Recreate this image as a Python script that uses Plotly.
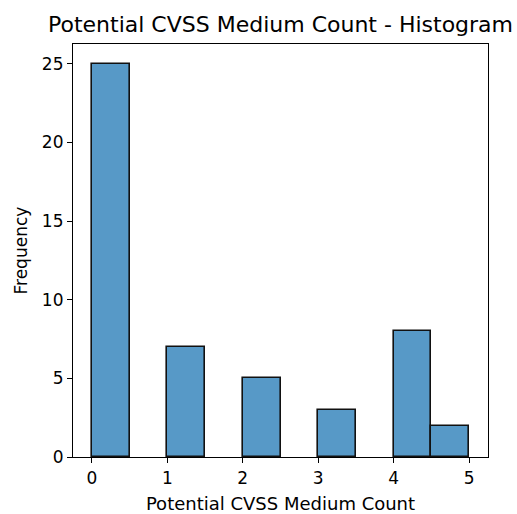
import plotly.graph_objects as go

# Histogram bins (width 0.5) and their counts
bin_edges = [0.0, 0.5, 1.0, 1.5, 2.0, 2.5, 3.0, 3.5, 4.0, 4.5, 5.0]
counts = [25, 0, 7, 0, 5, 0, 3, 0, 8, 2]

tick_values = [0, 1, 2, 3, 4, 5]
y_tick_values = [0, 5, 10, 15, 20, 25]

centers = [(a + b) / 2 for a, b in zip(bin_edges[:-1], bin_edges[1:])]
widths = [b - a for a, b in zip(bin_edges[:-1], bin_edges[1:])]

# skip empty bins so no zero-height outline is drawn
xs = [c for c, n in zip(centers, counts) if n > 0]
ws = [w for w, n in zip(widths, counts) if n > 0]
ys = [n for n in counts if n > 0]

font = "DejaVu Sans"
W, H = 517, 514
L, R, T, B = 73, 29, 44, 57

fig = go.Figure(
    go.Bar(
        x=xs,
        y=ys,
        width=ws,
        marker=dict(color="rgb(87,153,199)", line=dict(color="#111111", width=1.6)),
        hoverinfo="x+y",
    )
)

fig.update_layout(
    width=W,
    height=H,
    margin=dict(l=L, r=R, t=T, b=B),
    paper_bgcolor="white",
    plot_bgcolor="white",
    showlegend=False,
    bargap=0,
    title=dict(
        text="Potential CVSS Medium Count - Histogram",
        x=(L + W - R) / 2 / W,
        xanchor="center",
        y=1 - 24 / H,
        yanchor="middle",
        font=dict(family=font, size=22, color="black"),
    ),
    font=dict(family=font, size=17, color="black"),
    annotations=[
        dict(
            text="Frequency",
            xref="paper",
            yref="paper",
            x=(20 - L) / (W - L - R),
            y=0.5,
            xanchor="center",
            yanchor="middle",
            textangle=-90,
            showarrow=False,
            font=dict(family=font, size=17, color="black"),
        )
    ],
)

axis_common = dict(
    showline=True,
    linecolor="black",
    linewidth=1.2,
    mirror=True,
    showgrid=False,
    zeroline=False,
    ticks="outside",
    ticklen=5,
    tickwidth=1.2,
    tickcolor="black",
    automargin=False,
    tickfont=dict(family=font, size=17, color="black"),
)

fig.update_xaxes(
    range=[-0.25, 5.25],
    tickvals=tick_values,
    title=dict(text="Potential CVSS Medium Count", font=dict(family=font, size=18)),
    **axis_common,
)
fig.update_yaxes(
    range=[0, 26.25],
    tickvals=y_tick_values,
    **axis_common,
)

fig.write_html("out.html")
